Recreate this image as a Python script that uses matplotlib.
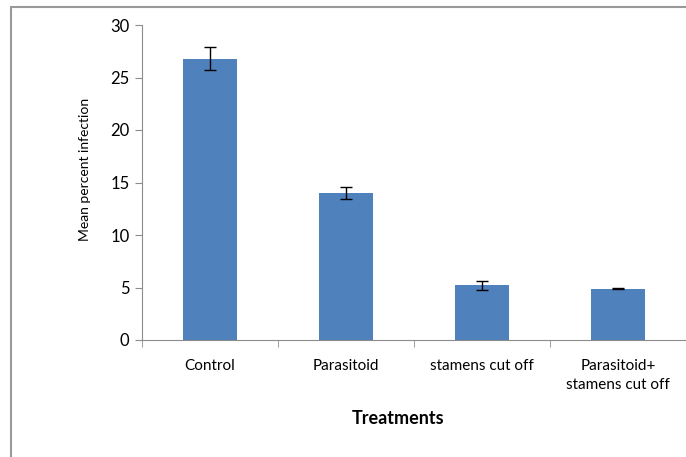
import matplotlib
matplotlib.use("Agg")
import matplotlib.pyplot as plt
from matplotlib.patches import Rectangle
import numpy as np

treatments = ["Control", "Parasitoid", "stamens cut off", "Parasitoid+\nstamens cut off"]
infection = [26.8, 14.0, 5.2, 4.9]
errors = [1.1, 0.6, 0.4, 0.07]
yticks = [0, 5, 10, 15, 20, 25, 30]

plt.rcParams['font.family'] = ['Lato', 'DejaVu Sans']

fig = plt.figure(figsize=(6.86, 4.57), dpi=100)
ax = fig.add_axes([142 / 686, 1 - 340 / 457, 544 / 686, 315 / 457])

x = np.arange(len(treatments))
ax.bar(x, infection, width=0.4, color='#4f81bd', zorder=2)
ax.errorbar(x, infection, yerr=errors, fmt='none', ecolor='black',
            elinewidth=1, capsize=4, capthick=1, zorder=3)

ax.set_xlim(-0.5, len(treatments) - 0.5)
ax.set_ylim(0, 30)
ax.set_yticks(yticks)
ax.tick_params(axis='y', labelsize=12, length=5, color='#8c8c8c', pad=4)

ax.set_xticks(x)
ax.set_xticklabels(treatments, fontsize=11, linespacing=1.45)
ax.tick_params(axis='x', length=0, pad=14)
ax.set_xticks(np.arange(-0.5, len(treatments), 1), minor=True)
ax.tick_params(axis='x', which='minor', length=5, color='#8c8c8c')

for s in ['top', 'right']:
    ax.spines[s].set_visible(False)
for s in ['left', 'bottom']:
    ax.spines[s].set_color('#8c8c8c')

ax.set_ylabel("Mean percent infection", fontsize=10)
ax.yaxis.set_label_coords(-0.093, 0.54)
ax.set_xlabel("Treatments", fontsize=13, fontweight='bold')
ax.xaxis.set_label_coords(0.47, -0.222)

# outer chart frame
fig.patches.append(Rectangle((11 / 686, -0.1), 1.2, 1.1 - 7 / 457, transform=fig.transFigure,
                             fill=False, edgecolor='#999999', linewidth=1.5))

fig.savefig("out.png", dpi=100)
